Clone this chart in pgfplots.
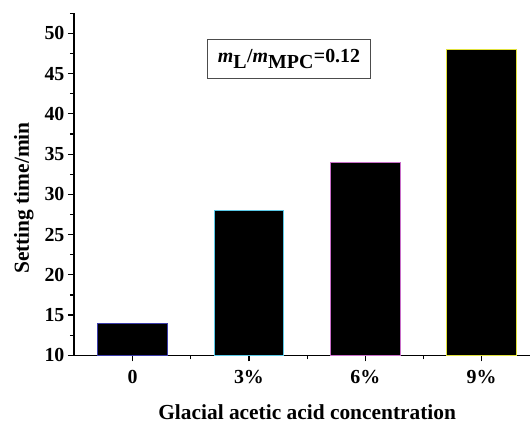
\documentclass[border=0pt]{standalone}
\usepackage{fontspec}
\setmainfont{Liberation Serif}
\usepackage{pgfplots}
\pgfplotsset{compat=1.18}
\definecolor{edgeA}{RGB}{60,60,170}
\definecolor{edgeB}{RGB}{90,200,230}
\definecolor{edgeC}{RGB}{200,110,200}
\definecolor{edgeD}{RGB}{225,225,60}
\begin{document}
\begin{tikzpicture}
\begin{axis}[
  scale only axis,
  width=457bp, height=342.4bp,
  xmin=-0.505, xmax=3.42,
  ymin=10, ymax=52.5,
  axis x line*=bottom, axis y line*=left,
  axis line style={line width=1.2pt, -},
  xtick={0,1,2,3},
  xticklabels={0,3\%,6\%,9\%},
  minor xtick={0.5,1.5,2.5},
  ytick={10,15,...,50},
  minor ytick={12.5,17.5,...,52.5},
  tick align=outside,
  major tick length=6bp,
  minor tick length=4bp,
  every tick/.style={line width=1.2pt, black},
  /pgf/number format/assume math mode=true,
  ticklabel style={font=\bfseries\fontsize{20}{20}\selectfont},
  xticklabel style={yshift=-5bp},
  label style={font=\bfseries\fontsize{21.5}{21.5}\selectfont},
  xlabel={Glacial acetic acid concentration},
  ylabel={Setting time/min},
  xlabel style={at={(axis description cs:0.5,0)}, anchor=center, yshift=-57bp, xshift=5bp},
  ylabel style={at={(axis description cs:-0.11,0.46)}, anchor=center},
  ybar, bar width=0.6,
  clip=true,
]
\addplot[ybar, bar shift=0pt, fill=black, draw=edgeA, line width=0.8pt] coordinates {(0,14)};
\addplot[ybar, bar shift=0pt, fill=black, draw=edgeB, line width=0.8pt] coordinates {(1,28)};
\addplot[ybar, bar shift=0pt, fill=black, draw=edgeC, line width=0.8pt] coordinates {(2,34)};
\addplot[ybar, bar shift=0pt, fill=black, draw=edgeD, line width=0.8pt] coordinates {(3,48)};
\node[draw=black!70, line width=0.8pt, fill=white, inner sep=3bp, minimum width=164bp, minimum height=39bp, font=\bfseries\fontsize{20}{20}\selectfont] at (axis cs:1.344,46.8) {\textit{m}$_{\textbf{L}}$/\textit{m}$_{\textbf{MPC}}$=0.12};
\end{axis}
\path[use as bounding box] (-74bp,-65.3bp) rectangle (457bp,355.7bp);
\end{tikzpicture}
\end{document}
